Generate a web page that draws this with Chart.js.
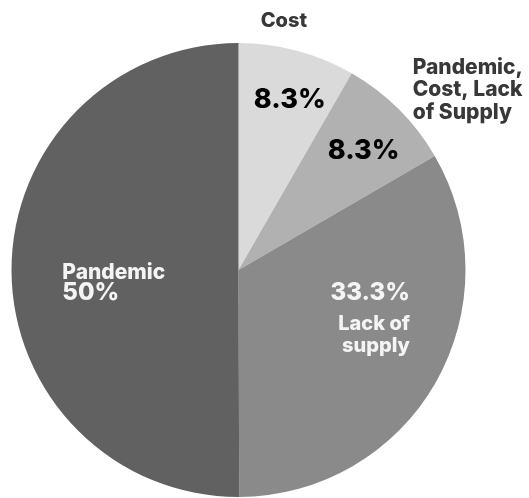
<!DOCTYPE html>
<html>
<head>
<meta charset="utf-8">
<script src="https://cdn.jsdelivr.net/npm/chart.js@4/dist/chart.umd.min.js"></script>
<style>
  html, body { margin: 0; padding: 0; background: #ffffff; }
  #wrap { width: 529px; height: 498px; }
</style>
</head>
<body>
<div id="wrap"><canvas id="pie" width="529" height="498"></canvas></div>
<script>
// Reasons, share of responses (%)
const categories = ['Cost', 'Pandemic, Cost, Lack of Supply', 'Lack of supply', 'Pandemic'];
const shares = [8.3, 8.3, 33.3, 50];
const sliceColors = ['#dadada', '#b1b1b1', '#8a8a8a', '#616161'];

// Label placement per slice: polar anchor inside the slice's angle span
// (fraction of the span, fraction of the radius) and the text lines.
const FONT = 'Inter, "Open Sans", "DejaVu Sans", sans-serif';
const DARK = '#383838';
const LIGHT = '#f4f4f4';
const labelLayout = [
  { slice: 0, at: 0.353, r: 1.09, align: 'center', lines: [
      { text: () => categories[0], size: 20, color: DARK, dy: 0 } ] },
  { slice: 0, at: 0.587, r: 0.749, align: 'center', lines: [
      { text: () => shares[0] + '%', size: 27, color: '#000000', dy: 0 } ] },
  { slice: 1, at: 0.62, r: 0.737, align: 'center', lines: [
      { text: () => shares[1] + '%', size: 27, color: '#000000', dy: 0 } ] },
  { slice: 1, at: 0.39, r: 1.156, align: 'left', lines: [
      { text: () => 'Pandemic,', size: 21, color: DARK, dy: 0 },
      { text: () => 'Cost, Lack', size: 21, color: DARK, dy: 22.7 },
      { text: () => 'of Supply', size: 21, color: DARK, dy: 45.4 } ] },
  { slice: 2, at: 0.335, r: 0.767, align: 'right', lines: [
      { text: () => shares[2] + '%', size: 24, color: LIGHT, dy: 0 },
      { text: () => 'Lack of', size: 20, color: LIGHT, dy: 30 },
      { text: () => 'supply', size: 20, color: LIGHT, dy: 52 } ] },
  { slice: 3, at: 0.484, r: 0.777, align: 'left', lines: [
      { text: () => categories[3], size: 21, color: LIGHT, dy: 0 },
      { text: () => shares[3] + '%', size: 24, color: LIGHT, dy: 21 } ] }
];

// Draws the text labels, anchored to each arc's geometry
const sliceLabels = {
  id: 'sliceLabels',
  afterDatasetsDraw(chart) {
    const ctx = chart.ctx;
    const arcs = chart.getDatasetMeta(0).data;
    ctx.save();
    ctx.textBaseline = 'alphabetic';
    labelLayout.forEach(lbl => {
      const arc = arcs[lbl.slice];
      const p = arc.getProps(['x', 'y', 'startAngle', 'endAngle', 'outerRadius'], true);
      const a = p.startAngle + (p.endAngle - p.startAngle) * lbl.at;
      const x = p.x + Math.cos(a) * p.outerRadius * lbl.r;
      const y = p.y + Math.sin(a) * p.outerRadius * lbl.r;
      ctx.textAlign = lbl.align;
      lbl.lines.forEach(line => {
        ctx.font = '800 ' + line.size + 'px ' + FONT;
        ctx.fillStyle = line.color;
        ctx.fillText(line.text(), x, y + line.dy);
      });
    });
    ctx.restore();
  }
};

function draw() {
  new Chart(document.getElementById('pie'), {
    type: 'pie',
    data: {
      labels: categories,
      datasets: [{
        data: shares,
        backgroundColor: sliceColors,
        borderWidth: 0
      }]
    },
    options: {
      responsive: false,
      animation: false,
      rotation: 0,
      layout: { padding: { left: 11, right: 63, top: 43, bottom: 1 } },
      plugins: {
        legend: { display: false },
        tooltip: { enabled: false }
      }
    },
    plugins: [sliceLabels]
  });
}

if (document.fonts && document.fonts.load) {
  Promise.all([
    document.fonts.load('800 20px Inter'),
    document.fonts.load('800 27px Inter')
  ]).then(draw, draw);
} else {
  draw();
}
</script>
</body>
</html>
